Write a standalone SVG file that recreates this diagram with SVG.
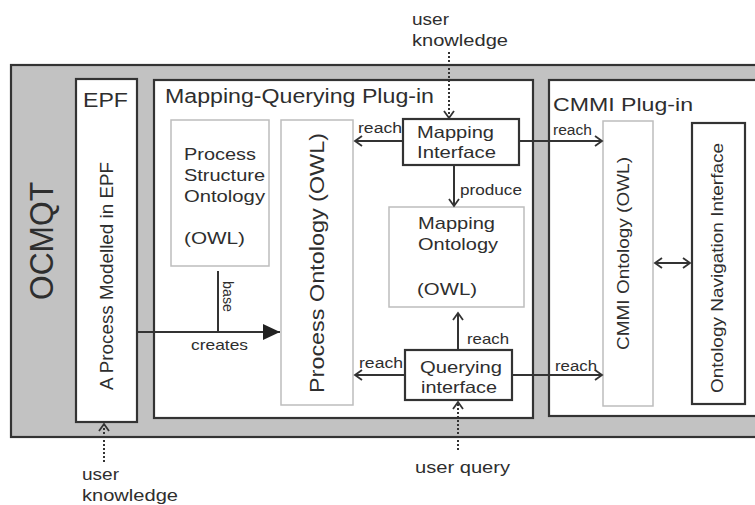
<svg xmlns="http://www.w3.org/2000/svg" width="755" height="505" viewBox="0 0 755 505">
<style>
text{font-family:"Liberation Sans",Arial,sans-serif;fill:#2e2e2e}
.box{fill:#fff;stroke:#333;stroke-width:2.2}
.lbox{fill:#fff;stroke:#bdbdbd;stroke-width:1.5}
.ln{fill:none;stroke:#333;stroke-width:2}
.dot{fill:none;stroke:#333;stroke-width:2;stroke-dasharray:2 2}
</style>
<defs>
<marker id="open" markerWidth="10" markerHeight="12" refX="8" refY="6" orient="auto" markerUnits="userSpaceOnUse">
<path d="M1,1 L8,6 L1,11" fill="none" stroke="#333" stroke-width="1.8"/>
</marker>
<marker id="openS" markerWidth="10" markerHeight="12" refX="2" refY="6" orient="auto" markerUnits="userSpaceOnUse">
<path d="M9,1 L2,6 L9,11" fill="none" stroke="#333" stroke-width="1.8"/>
</marker>
<marker id="fill" markerWidth="18" markerHeight="16" refX="17" refY="8" orient="auto" markerUnits="userSpaceOnUse">
<path d="M0,0 L17,8 L0,16 Z" fill="#222"/>
</marker>
</defs>
<rect width="755" height="505" fill="#fff"/>
<g id="ocmqt">
<rect x="11" y="65" width="760" height="372" fill="#c2c2c2" stroke="#333" stroke-width="2.2"/>
<text transform="translate(53,300) rotate(-90)" font-size="34" textLength="118" lengthAdjust="spacingAndGlyphs">OCMQT</text>
</g>
<g id="epf">
<rect class="box" x="76" y="79" width="61" height="343"/>
<text x="83" y="107" font-size="20" textLength="45" lengthAdjust="spacingAndGlyphs">EPF</text>
<text transform="translate(113,390) rotate(-90)" font-size="18" textLength="228" lengthAdjust="spacingAndGlyphs">A Process Modelled in EPF</text>
</g>
<g id="mq-plugin">
<rect class="box" x="154" y="80" width="379" height="338"/>
<text x="165" y="103" font-size="20" textLength="269" lengthAdjust="spacingAndGlyphs">Mapping-Querying Plug-in</text>
</g>
<g id="cmmi-plugin">
<rect class="box" x="549" y="80" width="220" height="336"/>
<text x="553" y="111" font-size="19" textLength="140" lengthAdjust="spacingAndGlyphs">CMMI Plug-in</text>
</g>
<g id="pso">
<rect class="lbox" x="171" y="120" width="98" height="146"/>
<text x="184" y="160" font-size="17" textLength="72" lengthAdjust="spacingAndGlyphs">Process</text>
<text x="184" y="181" font-size="17" textLength="81" lengthAdjust="spacingAndGlyphs">Structure</text>
<text x="184" y="202" font-size="17" textLength="81" lengthAdjust="spacingAndGlyphs">Ontology</text>
<text x="184" y="244" font-size="17" textLength="61" lengthAdjust="spacingAndGlyphs">(OWL)</text>
</g>
<g id="po">
<rect class="lbox" x="281" y="120" width="72" height="285"/>
<text transform="translate(324,393) rotate(-90)" font-size="20" textLength="260" lengthAdjust="spacingAndGlyphs">Process Ontology (OWL)</text>
</g>
<g id="mapping-interface">
<rect class="box" x="403" y="119" width="116" height="46"/>
<text x="417" y="138" font-size="16.5" textLength="77" lengthAdjust="spacingAndGlyphs">Mapping</text>
<text x="417" y="158" font-size="16.5" textLength="79" lengthAdjust="spacingAndGlyphs">Interface</text>
</g>
<g id="mapping-ontology">
<rect class="lbox" x="389" y="207" width="135" height="100"/>
<text x="418" y="229" font-size="17" textLength="77" lengthAdjust="spacingAndGlyphs">Mapping</text>
<text x="418" y="250" font-size="17" textLength="80" lengthAdjust="spacingAndGlyphs">Ontology</text>
<text x="417" y="295" font-size="17" textLength="60" lengthAdjust="spacingAndGlyphs">(OWL)</text>
</g>
<g id="querying-interface">
<rect class="box" x="405" y="350" width="107" height="50"/>
<text x="420" y="373" font-size="16.5" textLength="82" lengthAdjust="spacingAndGlyphs">Querying</text>
<text x="421" y="393" font-size="16.5" textLength="76" lengthAdjust="spacingAndGlyphs">interface</text>
</g>
<g id="cmmi-ontology">
<rect class="lbox" x="603" y="121" width="50" height="285"/>
<text transform="translate(629,350) rotate(-90)" font-size="17" textLength="193" lengthAdjust="spacingAndGlyphs">CMMI Ontology (OWL)</text>
</g>
<g id="ont-nav">
<rect class="box" x="692" y="123" width="53" height="281"/>
<text transform="translate(723,393) rotate(-90)" font-size="17" textLength="250" lengthAdjust="spacingAndGlyphs">Ontology Navigation Interface</text>
</g>
<g id="connectors">
<path class="dot" d="M449,52 V118" marker-end="url(#open)"/>
<path class="ln" d="M403,141 H355" marker-end="url(#open)"/>
<path class="ln" d="M519,141 H602" marker-end="url(#open)"/>
<path class="ln" d="M454,165 V206" marker-end="url(#open)"/>
<path class="ln" d="M458,350 V313" marker-end="url(#open)"/>
<path class="ln" d="M405,375 H355" marker-end="url(#open)"/>
<path class="ln" d="M512,375 H602" marker-end="url(#open)"/>
<path class="dot" d="M458,450 V402" marker-end="url(#open)"/>
<path class="dot" d="M104,462 V424" marker-end="url(#open)"/>
<path class="ln" d="M655,263 H690" marker-start="url(#openS)" marker-end="url(#open)"/>
<path class="ln" d="M137,332 H280" marker-end="url(#fill)"/>
<path class="ln" d="M218,271 V332"/>
<text x="358" y="133" font-size="14" textLength="44" lengthAdjust="spacingAndGlyphs">reach</text>
<text x="553" y="135" font-size="14" textLength="39" lengthAdjust="spacingAndGlyphs">reach</text>
<text x="460" y="195" font-size="14.5" textLength="62" lengthAdjust="spacingAndGlyphs">produce</text>
<text x="467" y="344" font-size="14.5" textLength="42" lengthAdjust="spacingAndGlyphs">reach</text>
<text x="359" y="368" font-size="14" textLength="44" lengthAdjust="spacingAndGlyphs">reach</text>
<text x="555" y="371" font-size="14" textLength="42" lengthAdjust="spacingAndGlyphs">reach</text>
<text x="191" y="350" font-size="14.5" textLength="57" lengthAdjust="spacingAndGlyphs">creates</text>
<text transform="translate(223,281) rotate(90)" font-size="15" textLength="31" lengthAdjust="spacingAndGlyphs">base</text>
<text x="412" y="25" font-size="16" textLength="37" lengthAdjust="spacingAndGlyphs">user</text>
<text x="412" y="46" font-size="16" textLength="96" lengthAdjust="spacingAndGlyphs">knowledge</text>
<text x="82" y="480" font-size="16" textLength="37" lengthAdjust="spacingAndGlyphs">user</text>
<text x="82" y="501" font-size="16" textLength="96" lengthAdjust="spacingAndGlyphs">knowledge</text>
<text x="415" y="473" font-size="16" textLength="95" lengthAdjust="spacingAndGlyphs">user query</text>
</g>
</svg>
